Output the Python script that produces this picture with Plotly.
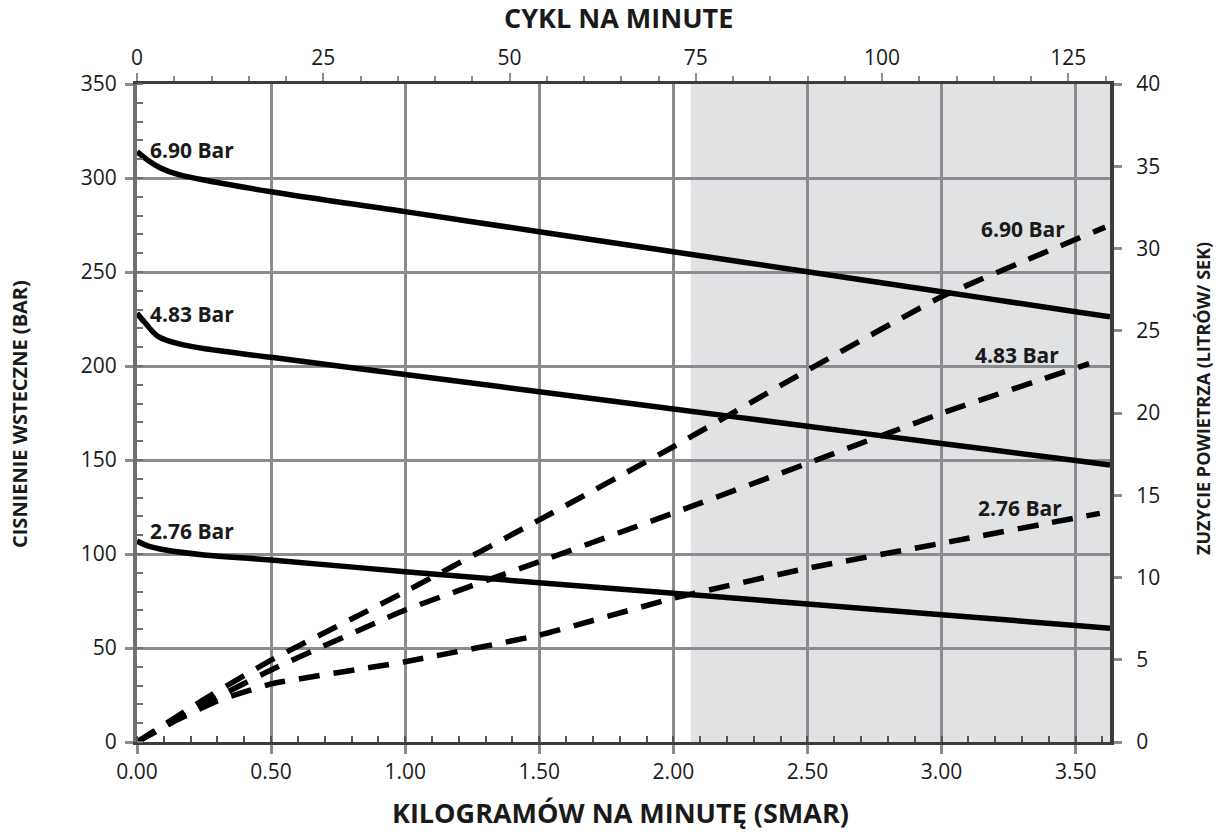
import plotly.graph_objects as go

# ---- data -------------------------------------------------------------
# Back-pressure curves (left axis, bar) against grease flow (kg/min)
bp_690_x = [0.0, 0.04, 0.086, 0.15, 0.235, 0.5, 1.0, 1.5, 2.0, 2.5, 3.0, 3.5, 3.628]
bp_690_y = [314.0, 309.5, 305.5, 302.0, 299.3, 292.7, 282.1, 271.4, 260.8, 250.1, 239.5, 228.9, 226.2]

bp_483_x = [0.0, 0.03, 0.08, 0.173, 0.5, 1.0, 1.5, 2.0, 2.5, 3.0, 3.5, 3.628]
bp_483_y = [228.0, 223.0, 215.6, 211.2, 204.6, 195.5, 186.3, 177.1, 168.0, 158.8, 149.7, 147.3]

bp_276_x = [0.0, 0.04, 0.107, 0.25, 0.5, 1.0, 1.5, 2.0, 2.5, 3.0, 3.5, 3.628]
bp_276_y = [106.9, 104.3, 102.1, 99.5, 96.8, 90.6, 84.7, 79.1, 73.4, 67.7, 62.0, 60.5]

# Air consumption curves (right axis, l/s) against grease flow (kg/min)
air_690_x = [0.0, 0.25, 0.5, 1.0, 1.5, 2.0, 2.5, 3.0, 3.61]
air_690_y = [0.0, 2.6, 4.98, 9.14, 13.5, 17.95, 22.6, 27.07, 31.3]

air_483_x = [0.0, 0.25, 0.5, 1.0, 1.5, 2.0, 2.5, 3.0, 3.55]
air_483_y = [0.0, 2.3, 4.38, 8.02, 10.96, 13.92, 16.94, 19.98, 23.0]

air_276_x = [0.0, 0.15, 0.3, 0.5, 1.0, 1.5, 2.0, 2.5, 3.0, 3.59]
air_276_y = [0.0, 1.35, 2.5, 3.53, 4.88, 6.5, 8.74, 10.56, 12.08, 13.9]

bottom_ticks = [0.0, 0.5, 1.0, 1.5, 2.0, 2.5, 3.0, 3.5]
bottom_labels = ["0.00", "0.50", "1.00", "1.50", "2.00", "2.50", "3.00", "3.50"]
top_ticks = [0, 25, 50, 75, 100, 125]
left_ticks = [0, 50, 100, 150, 200, 250, 300, 350]
right_ticks = [0, 5, 10, 15, 20, 25, 30, 35, 40]

x_max = 3.628
cycles_max = 130.6
shade_start = 2.065

# ---- styling ----------------------------------------------------------
W, H = 1218, 834
ML, MR, MT, MB = 137, 108, 84, 92
FONT = "Open Sans"
INK = "#1a1a1a"
GRID = "#8a8c8f"
AXIS = "#3c3c3c"
TICK_SIZE = 21

fig = go.Figure()

solid = dict(color="black", width=5.5, shape="spline", smoothing=1.0)
for xs, ys in [(bp_690_x, bp_690_y), (bp_483_x, bp_483_y), (bp_276_x, bp_276_y)]:
    fig.add_trace(go.Scatter(x=xs, y=ys, mode="lines", line=solid,
                             xaxis="x", yaxis="y", showlegend=False, hoverinfo="skip"))

dashed = dict(color="black", width=5.5, dash="21px,14px", shape="spline", smoothing=0.4)
for xs, ys in [(air_690_x, air_690_y), (air_483_x, air_483_y), (air_276_x, air_276_y)]:
    fig.add_trace(go.Scatter(x=xs, y=ys, mode="lines", line=dashed,
                             xaxis="x", yaxis="y2", showlegend=False, hoverinfo="skip"))

# invisible trace so the cycles-per-minute axis is drawn
fig.add_trace(go.Scatter(x=[0, cycles_max], y=[0, 0], mode="lines",
                         line=dict(width=0), opacity=0,
                         xaxis="x2", yaxis="y", showlegend=False, hoverinfo="skip"))

tickfont = dict(family=FONT, size=TICK_SIZE, color=INK)

fig.update_layout(
    width=W, height=H,
    margin=dict(l=ML, r=MR, t=MT, b=MB),
    paper_bgcolor="white", plot_bgcolor="white",
    font=dict(family=FONT, color=INK),
    xaxis=dict(
        range=[0, x_max], tickvals=bottom_ticks, ticktext=bottom_labels,
        showgrid=True, gridcolor=GRID, gridwidth=3, zeroline=False,
        ticks="outside", ticklen=9, tickwidth=3, tickcolor=GRID,
        showline=True, linecolor=AXIS, linewidth=3,
        minor=dict(dtick=0.1, ticks="inside", ticklen=6, tickwidth=2,
                   tickcolor="#555555", showgrid=False),
        tickfont=tickfont, fixedrange=True,
    ),
    xaxis2=dict(
        overlaying="x", side="top", anchor="y",
        range=[0, cycles_max], tickvals=top_ticks,
        showgrid=False, zeroline=False,
        ticks="outside", ticklen=8, tickwidth=2, tickcolor=GRID,
        showline=True, linecolor=AXIS, linewidth=3,
        minor=dict(dtick=5, ticks="outside", ticklen=5, tickwidth=2,
                   tickcolor=GRID, showgrid=False),
        tickfont=tickfont, fixedrange=True,
    ),
    yaxis=dict(
        range=[0, 350], tickvals=left_ticks,
        showgrid=True, gridcolor=GRID, gridwidth=3, zeroline=False,
        ticks="outside", ticklen=8, tickwidth=3, tickcolor=GRID,
        ticklabelstandoff=4,
        showline=True, linecolor="#6e7073", linewidth=4,
        minor=dict(dtick=10, ticks="inside", ticklen=6, tickwidth=2,
                   tickcolor="#6e7073", showgrid=False),
        tickfont=tickfont, fixedrange=True,
    ),
    yaxis2=dict(
        overlaying="y", side="right", anchor="x",
        range=[0, 40], tickvals=right_ticks,
        showgrid=False, zeroline=False,
        ticks="outside", ticklen=8, tickwidth=3, tickcolor=GRID,
        ticklabelstandoff=10,
        showline=True, linecolor=AXIS, linewidth=4,
        tickfont=tickfont, fixedrange=True,
    ),
    shapes=[dict(type="rect", xref="x", yref="y domain",
                 x0=shade_start, x1=x_max, y0=0, y1=1,
                 fillcolor="#e1e2e4", line=dict(width=0), layer="below")],
)

# ---- series labels ----------------------------------------------------
lab = dict(family=FONT, size=21, color=INK, weight="bold")
for y, txt in [(315, "6.90 Bar"), (227.5, "4.83 Bar"), (112.5, "2.76 Bar")]:
    fig.add_annotation(x=0.04, y=y, xref="x", yref="y", text=txt,
                       showarrow=False, xanchor="left", yanchor="middle", font=lab)
for x, y, txt in [(3.466, 31.2, "6.90 Bar"), (3.444, 23.5, "4.83 Bar"), (3.458, 14.2, "2.76 Bar")]:
    fig.add_annotation(x=x, y=y, xref="x", yref="y2", text=txt,
                       showarrow=False, xanchor="right", yanchor="middle", font=lab)

# ---- axis titles (placed in pixel terms relative to the plot area) ------
pw = W - ML - MR
ph = H - MT - MB
def px(xp):
    return (xp - ML) / pw
def py(yp):
    return (H - MB - yp) / ph

htitle = dict(family=FONT, size=27, color=INK, weight="bold")
fig.add_annotation(x=px(618), y=py(18), xref="paper", yref="paper",
                   text="CYKL NA MINUTE", showarrow=False,
                   xanchor="center", yanchor="middle", font=htitle)
fig.add_annotation(x=px(620), y=py(812), xref="paper", yref="paper",
                   text="KILOGRAMÓW NA MINUTĘ (SMAR)", showarrow=False,
                   xanchor="center", yanchor="middle", font=htitle)
fig.add_annotation(x=px(19), y=py(414), xref="paper", yref="paper",
                   text="CISNIENIE WSTECZNE (BAR)", showarrow=False, textangle=-90,
                   xanchor="center", yanchor="middle",
                   font=dict(family=FONT, size=20, color=INK, weight="bold"))
fig.add_annotation(x=px(1203), y=py(399), xref="paper", yref="paper",
                   text="ZUZYCIE POWIETRZA (LITRÓW/ SEK)", showarrow=False, textangle=-90,
                   xanchor="center", yanchor="middle",
                   font=dict(family=FONT, size=18, color=INK, weight="bold"))

fig.write_html("out.html")
